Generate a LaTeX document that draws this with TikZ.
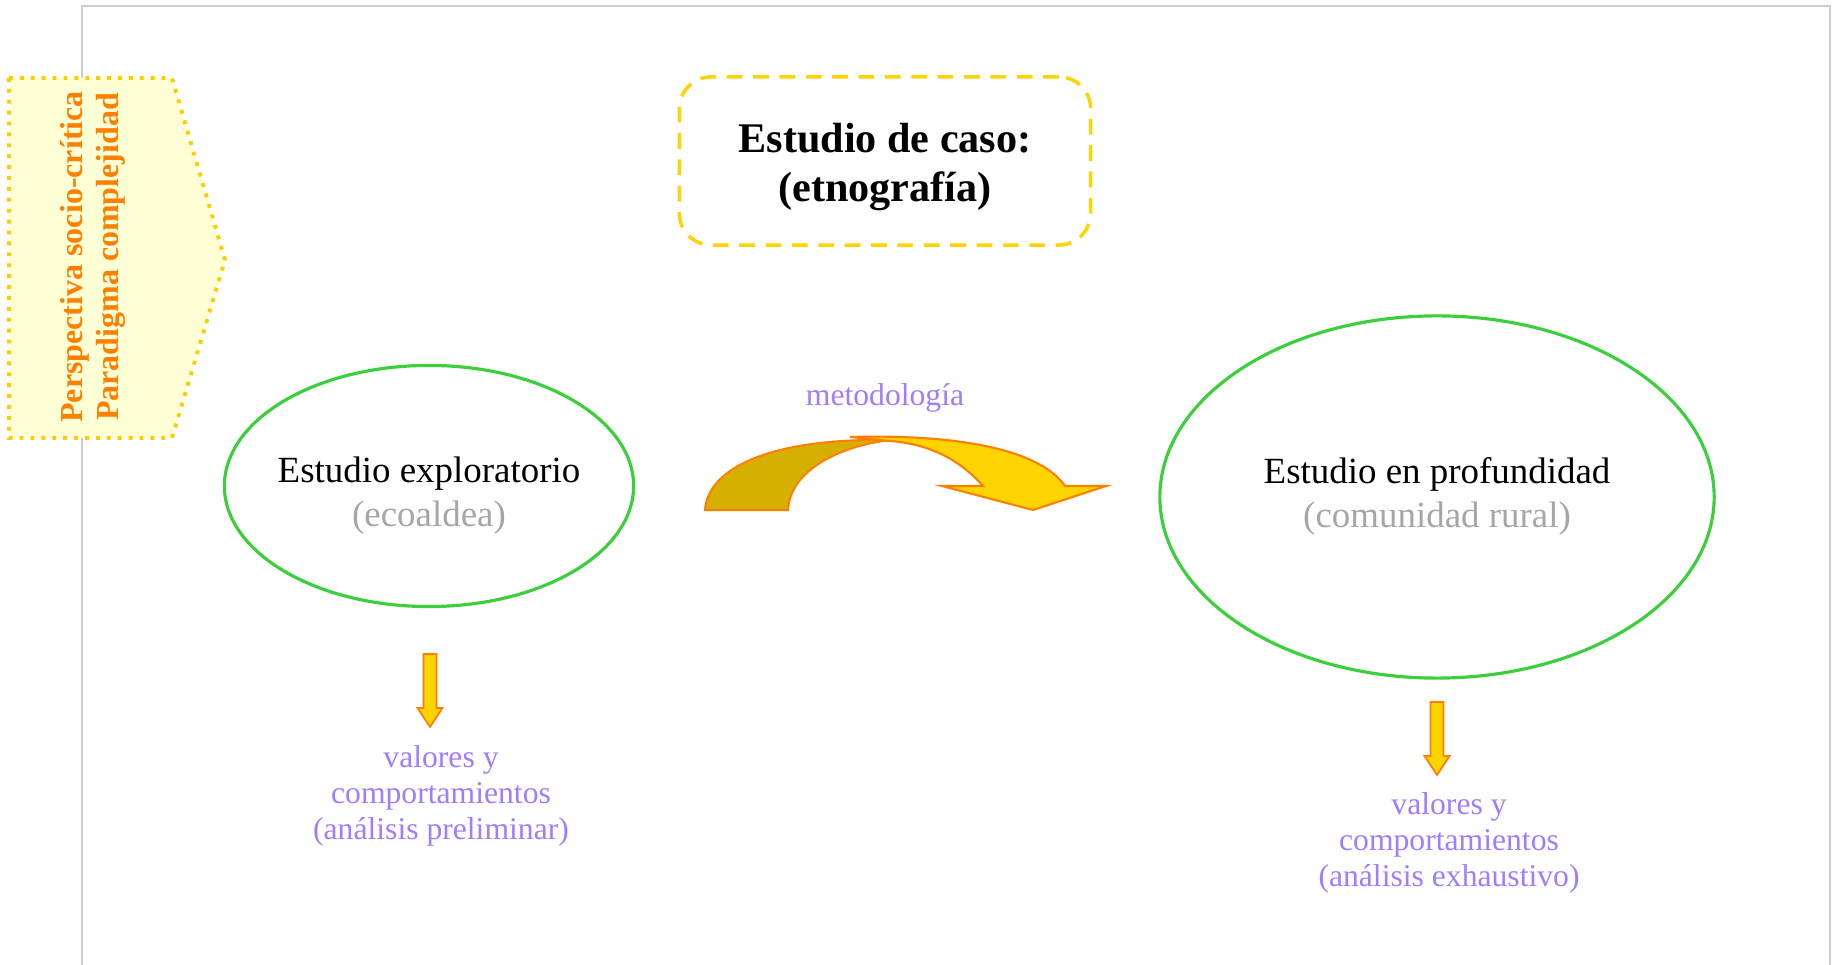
\documentclass[tikz,border=0pt]{standalone}
\usepackage{fontspec}
\setmainfont{Liberation Serif}
\usetikzlibrary{shapes.geometric}

\definecolor{naranja}{HTML}{FF8000}
\definecolor{amarillo}{HTML}{FFD400}
\definecolor{oliva}{HTML}{D6B000}
\definecolor{crema}{HTML}{FFFFD6}
\definecolor{verde}{HTML}{3CCF3C}
\definecolor{morado}{HTML}{A07CFF}
\definecolor{gris}{HTML}{A6A6A6}
\definecolor{marco}{HTML}{CCCCCC}

\tikzset{
    elipse/.style={ellipse, draw=verde, line width=0.9pt, inner sep=0pt},
    texto/.style={align=center, font=\fontsize{10.5}{12.5}\selectfont},
    nota/.style={text=morado, align=center, font=\fontsize{9}{10.3}\selectfont},
    pics/flecha/.style={
        code={
            \filldraw[fill=amarillo, draw=naranja, line width=0.5pt]
                (-6.5,0) -- (6.5,0) -- (6.5,54) -- (12.5,54) -- (0,73)
                -- (-12.5,54) -- (-6.5,54) -- cycle;
        }
    }
}

\begin{document}
\begin{tikzpicture}[x=0.01cm, y=-0.01cm]
                      \useasboundingbox (0,0) rectangle (1834,965);
                      \draw[marco, line width=0.5pt] (82,965) -- (82,6) -- (1830,6) -- (1830,965);

                      % flecha lateral
                      \filldraw[fill=crema, draw=amarillo!90!orange, dotted, line width=1.1pt]
                          (9,78) -- (172,78) -- (225,260) -- (172,438) -- (9,438) -- cycle;
                      \node[rotate=90, text=naranja, align=center, font=\fontsize{9.1}{10.3}\selectfont\bfseries]
                          (perspectiva) at (93,257) {Perspectiva socio-crítica\\Paradigma complejidad};

                      \node[draw=amarillo, dashed, dash pattern=on 4.5pt off 3pt, line width=1pt,
                            rounded corners=9pt, minimum width=4.11cm, minimum height=1.68cm]
                          (caso) at (885,161) {};
                      \node[align=center, font=\fontsize{12}{14}\selectfont\bfseries]
                          (caso-t) at (885,167) {Estudio de caso:\\(etnografía)};

                      \node[elipse, minimum width=4.09cm, minimum height=2.41cm]
                          (exploratorio) at (429,486) {};
                      \node[texto] (exploratorio-t) at (429,496) {Estudio exploratorio\\\textcolor{gris}{(ecoaldea)}};
                      \node[elipse, minimum width=5.54cm, minimum height=3.62cm]
                          (profundidad) at (1437,497) {};
                      \node[texto] (profundidad-t) at (1437,496) {Estudio en profundidad\\\textcolor{gris}{(comunidad rural)}};

                      \node[nota] (metodologia) at (885,398) {metodología};

                      % flecha curva
                      \filldraw[fill=oliva, draw=naranja, line width=0.6pt]
                          (705,510) .. controls (708,468) and (770,438) .. (890,440)
                          .. controls (840,446) and (790,470) .. (788,510) -- cycle;
                      \filldraw[fill=amarillo, draw=naranja, line width=0.6pt]
                          (850,437) .. controls (960,434) and (1040,450) .. (1065,486)
                          -- (1106,486) -- (1033,510) -- (942,486) -- (983,486)
                          .. controls (960,460) and (930,444) .. (890,441) -- cycle;

                      \pic at (430,654) {flecha};
                      \pic at (1437,702) {flecha};

                      \node[nota] (preliminar) at (441,796) {valores y\\comportamientos\\(análisis preliminar)};
                      \node[nota] (exhaustivo) at (1449,843) {valores y\\comportamientos\\(análisis exhaustivo)};
                  \end{tikzpicture}
\end{document}
